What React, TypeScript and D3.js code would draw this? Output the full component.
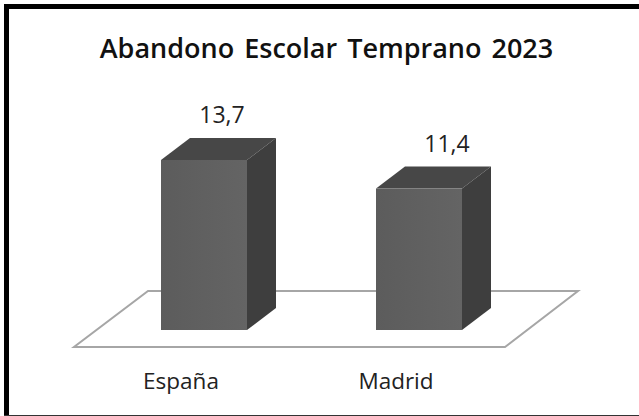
import React from 'react'
import * as d3 from 'd3'

const categories = ['España', 'Madrid']
const values = [13.7, 11.4]
const valueLabels = ['13,7', '11,4']
const labelShift = [61, 71]
const chartTitle = 'Abandono Escolar Temprano 2023'

const width = 639
const height = 416
const baseY = 330
const depthX = 29
const depthY = 22
const barWidth = 86
const font = '"Open Sans", "Noto Sans", sans-serif'

const x = d3.scalePoint<string>().domain(categories).range([161, 376])
const y = d3.scaleLinear().domain([0, 13.7]).range([baseY, 160])

const poly = (pts: [number, number][]) => d3.line()(pts) + 'Z'

const App = () => {
	// floor plane sits under both bars
	const floor: [number, number][] = [
		[148, 291],
		[578, 291],
		[505, 347],
		[74, 347],
	]

	return (
		<svg
			width={width}
			height={height}
			style={{ position: 'absolute', left: 0, top: 0, background: '#fff' }}
		>
			<defs>
				<linearGradient id="front" x1="0" x2="1" y1="0" y2="0">
					<stop offset="0" stopColor="#5c5c5c" />
					<stop offset="1" stopColor="#646464" />
				</linearGradient>
			</defs>
			{/* frame: heavy top and left, thin bottom, open on the right */}
			<rect x={4} y={4} width={635} height={5} fill="#000" />
			<rect x={4} y={4} width={5} height={412} fill="#000" />
			<rect x={4} y={415} width={635} height={1} fill="#333" />
			<text
				x={326.5}
				y={58}
				textAnchor="middle"
				fontFamily={font}
				fontWeight={600}
				fontSize={27}
				wordSpacing={3}
				fill="#111"
			>
				{chartTitle}
			</text>
			<path d={poly(floor)} fill="#fff" stroke="#a6a6a6" strokeWidth={2} />
			{categories.map((c, i) => {
				const x0 = x(c) as number
				const x1 = x0 + barWidth
				const top = y(values[i])
				return (
					<g key={c}>
						<path
							d={poly([
								[x0, top],
								[x0 + depthX, top - depthY],
								[x1 + depthX, top - depthY],
								[x1, top],
							])}
							fill="#474747"
						/>
						<path
							d={poly([
								[x1, top],
								[x1 + depthX, top - depthY],
								[x1 + depthX, baseY - depthY],
								[x1, baseY],
							])}
							fill="#3e3e3e"
						/>
						<rect x={x0} y={top} width={barWidth} height={baseY - top} fill="url(#front)" />
						<text
							x={x0 + labelShift[i]}
							y={top - 37}
							textAnchor="middle"
							fontFamily={font}
							fontSize={23}
							fill="#222"
						>
							{valueLabels[i]}
						</text>
						<text
							x={x0 + 20}
							y={389}
							textAnchor="middle"
							fontFamily={font}
							fontSize={22.5}
							fill="#222"
						>
							{c}
						</text>
					</g>
				)
			})}
		</svg>
	)
}

export default App
